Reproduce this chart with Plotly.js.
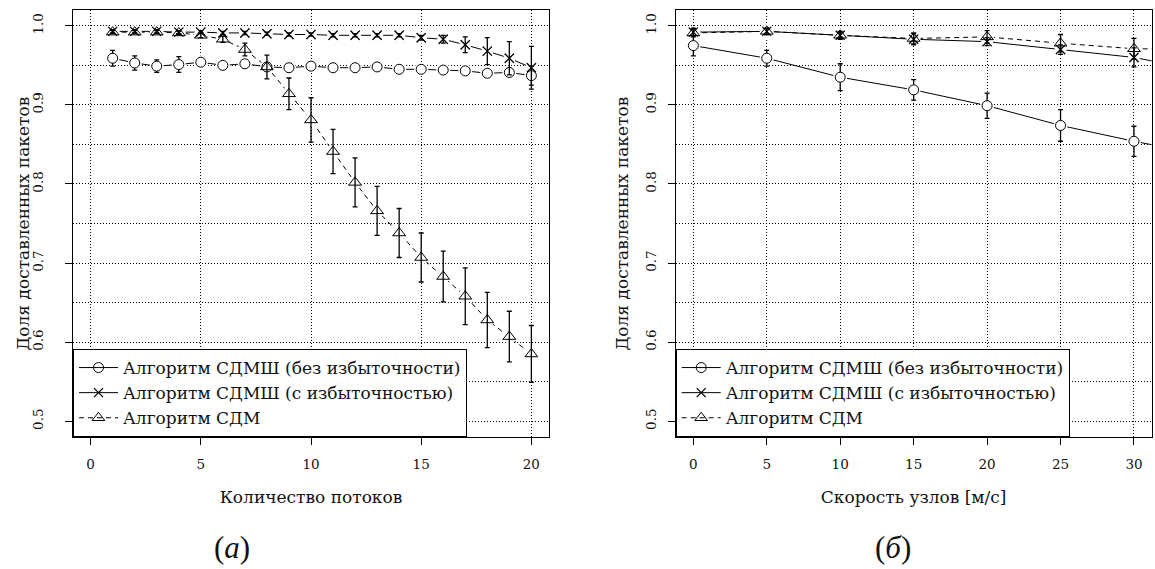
<!DOCTYPE html>
<html><head><meta charset="utf-8">
<script src="https://cdn.plot.ly/plotly-3.0.1.min.js"></script>
<style>html,body{margin:0;padding:0;background:#fff}#chart{width:1155px;height:569px}</style>
</head><body><div id="chart"></div>
<script>
// ---- data: panel (a) ----
const leftX = [1,2,3,4,5,6,7,8,9,10,11,12,13,14,15,16,17,18,19,20];
const leftNoRed    = [0.959,0.953,0.949,0.951,0.954,0.950,0.952,0.948,0.947,0.949,0.947,0.947,0.948,0.945,0.945,0.944,0.943,0.940,0.941,0.937];
const leftNoRedErr = [0.010,0.009,0.008,0.010,0.003,0.003,0.003,0.004,0.003,0.003,0.002,0.002,0.002,0.002,0.002,0.002,0.003,0.003,0.005,0.012];
const leftRed      = [0.993,0.993,0.993,0.992,0.992,0.991,0.991,0.990,0.989,0.989,0.988,0.988,0.988,0.988,0.985,0.983,0.976,0.968,0.959,0.947];
const leftRedErr   = [0.002,0.002,0.002,0.002,0.002,0.002,0.002,0.002,0.002,0.002,0.002,0.002,0.002,0.002,0.003,0.005,0.010,0.017,0.021,0.027];
const leftSdm      = [0.992,0.992,0.992,0.991,0.988,0.983,0.970,0.948,0.914,0.881,0.841,0.802,0.766,0.738,0.707,0.683,0.658,0.628,0.607,0.585];
const leftSdmErr   = [0.002,0.002,0.002,0.002,0.003,0.004,0.008,0.015,0.020,0.028,0.028,0.031,0.031,0.031,0.031,0.032,0.036,0.035,0.032,0.036];

// ---- data: panel (б) ----
const rightX = [0,5,10,15,20,25,30,35];
const rightNoRed    = [0.975,0.959,0.935,0.919,0.899,0.874,0.854,0.836];
const rightNoRedErr = [0.013,0.010,0.017,0.013,0.016,0.020,0.019,0.020];
const rightRed      = [0.992,0.993,0.988,0.983,0.980,0.970,0.960,0.942];
const rightRedErr   = [0.005,0.004,0.004,0.007,0.005,0.006,0.012,0.012];
const rightSdm      = [0.991,0.993,0.988,0.984,0.986,0.978,0.971,0.970];
const rightSdmErr   = [0.005,0.004,0.005,0.007,0.008,0.011,0.013,0.013];

const seriesNames = ["Алгоритм СДМШ (без избыточности)", "Алгоритм СДМШ (с избыточностью)", "Алгоритм СДМ"];
const xTitles = ["Количество потоков", "Скорость узлов [м/с]"];
const yTitle = "Доля доставленных пакетов";
const panelLabels = ["(<i>a</i>)", "(<i>б</i>)"];
const yTicks = [0.5,0.6,0.7,0.8,0.9,1.0];
const yTickText = ["0.5","0.6","0.7","0.8","0.9","1.0"];
const leftXTicks = [0,5,10,15,20];
const rightXTicks = [0,5,10,15,20,25,30];

const FONT = "DejaVu Serif";
const styles = [
  {sym:'circle', legSym:'circle-open', size:10, fill:'white', lw:1, dash:'solid', mask:14},
  {sym:'x-thin-open', legSym:'x-thin-open', size:9, fill:'black', lw:1.3, dash:'solid', mask:12},
  {sym:'triangle-up-open', legSym:'triangle-up-open', size:11, fill:'black', lw:1, dash:'5px,4px', mask:14}
];

function panel(xs, ys, errs, xa, ya, legendId) {
  const lines = [], masks = [], marks = [];
  ys.forEach((y, i) => {
    const s = styles[i];
    lines.push({type:'scatter', mode:'lines+markers', x:xs, y:y, xaxis:xa, yaxis:ya,
      name:seriesNames[i], legend:legendId, showlegend:true, cliponaxis:true,
      line:{color:'black', width:1, dash:s.dash},
      marker:{symbol:s.legSym, size:s.size, color:'black', line:{color:'black', width:s.lw}},
      hoverinfo:'skip'});
    masks.push({type:'scatter', mode:'markers', x:xs, y:y, xaxis:xa, yaxis:ya, showlegend:false,
      marker:{symbol:'circle', size:s.mask, color:'white', line:{width:0}}, hoverinfo:'skip'});
    marks.push({type:'scatter', mode:'markers', x:xs, y:y, xaxis:xa, yaxis:ya, showlegend:false,
      error_y:{type:'data', array:errs[i], visible:true, color:'black', thickness:1.3, width:2.5},
      marker:{symbol:s.sym, size:s.size, color:s.fill, line:{color:'black', width:s.lw}}});
  });
  return lines.concat(masks, marks);
}

const data = panel(leftX, [leftNoRed, leftRed, leftSdm], [leftNoRedErr, leftRedErr, leftSdmErr], 'x', 'y', 'legend')
  .concat(panel(rightX, [rightNoRed, rightRed, rightSdm], [rightNoRedErr, rightRedErr, rightSdmErr], 'x2', 'y2', 'legend2'));

const W = 1155, H = 569;
const yDom = [1 - 437/H, 1 - 10/H];
const tickFont = {family:FONT, size:13.5, color:'#111'};
const titleFont = {family:FONT, size:17, color:'#111'};
const gridDash = '1px,2px';

function xAxis(dom, range, ticks, title, anchor) {
  return {domain:dom, range:range, anchor:anchor, tickvals:ticks, showline:true, mirror:true,
    linecolor:'black', linewidth:1, ticks:'outside', ticklen:7, tickcolor:'black', tickwidth:1,
    showgrid:true, gridcolor:'black', gridwidth:1, griddash:gridDash, zeroline:false,
    tickfont:tickFont, ticklabelstandoff:8, title:{text:title, font:titleFont, standoff:19}};
}
function yAxis(anchor, standoff) {
  return {domain:yDom, range:[0.48,1.02], anchor:anchor, tickvals:yTicks, ticktext:yTickText, tickangle:-90,
    showline:true, mirror:true, linecolor:'black', linewidth:1, ticks:'outside', ticklen:7,
    tickcolor:'black', tickwidth:1, showgrid:true, gridcolor:'black', gridwidth:1, griddash:gridDash,
    zeroline:false, tickfont:tickFont, ticklabelstandoff:standoff,
    minor:{tickvals:[0.55,0.65,0.75,0.85,0.95], showgrid:true, gridcolor:'black', gridwidth:1, griddash:gridDash, ticks:''}};
}
function legendAt(xpx) {
  return {x:xpx/W, xanchor:'left', y:1 - 437/H, yanchor:'bottom', xref:'paper', yref:'paper',
    bgcolor:'white', bordercolor:'black', borderwidth:1,
    font:{family:FONT, size:17, color:'#111'}, itemwidth:39, traceorder:'normal', tracegroupgap:0};
}
function yTitleAt(xpx) {
  return {text:yTitle, x:xpx/W, y:1-223.5/H, xref:'paper', yref:'paper', xanchor:'center', yanchor:'middle',
    textangle:-90, showarrow:false, font:titleFont};
}

const layout = {
  width:W, height:H, margin:{l:0, r:0, t:0, b:0}, paper_bgcolor:'white', plot_bgcolor:'white',
  showlegend:true,
  xaxis: xAxis([73/W, 549/W], [-0.8, 20.8], leftXTicks, xTitles[0], 'y'),
  yaxis: yAxis('x', 17),
  xaxis2: xAxis([675.7/W, 1151.6/W], [-1.2, 31.2], rightXTicks, xTitles[1], 'y2'),
  yaxis2: yAxis('x2', 6),
  legend: legendAt(73),
  legend2: legendAt(675.7),
  annotations: [
    yTitleAt(22), yTitleAt(621),
    {text:panelLabels[0], x:232/W, y:1-547/H, xref:'paper', yref:'paper', xanchor:'center', yanchor:'middle', showarrow:false,
     font:{family:'Liberation Serif', size:31, color:'#111'}},
    {text:panelLabels[1], x:893/W, y:1-547/H, xref:'paper', yref:'paper', xanchor:'center', yanchor:'middle', showarrow:false,
     font:{family:'Liberation Serif', size:31, color:'#111'}}
  ]
};

Plotly.newPlot('chart', data, layout, {staticPlot:true, displayModeBar:false});
</script>
</body></html>
